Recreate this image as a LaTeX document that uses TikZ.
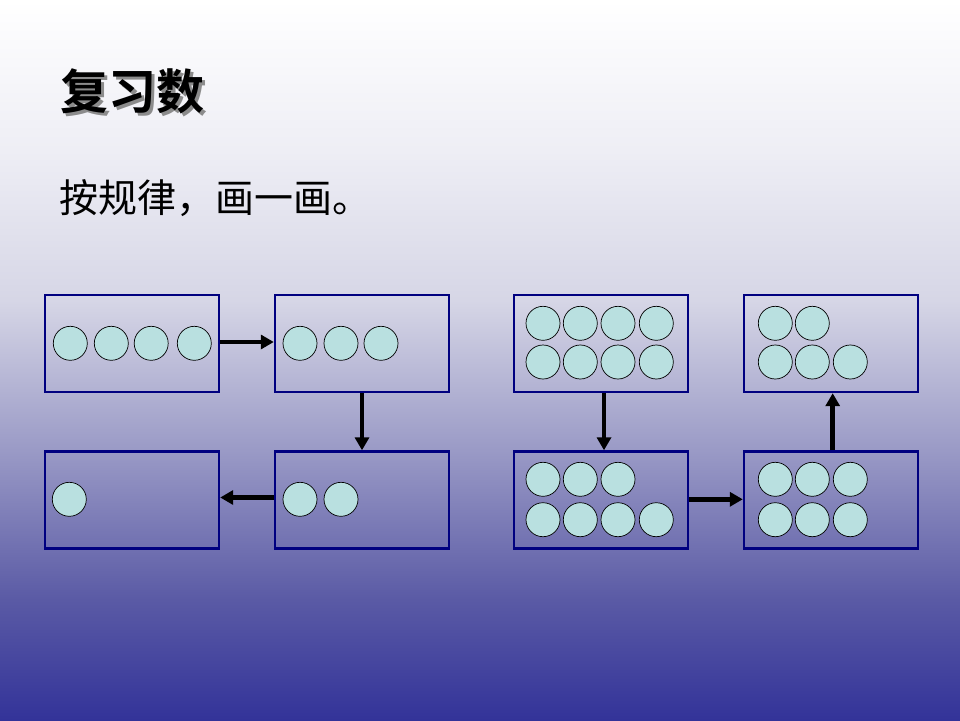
\documentclass[tikz,border=0pt]{standalone}
\usepackage{fontspec}
\newfontfamily\cjk{Noto Sans CJK SC}
\newfontfamily\cjkb{Noto Sans CJK SC Bold}
\usetikzlibrary{arrows.meta}
\definecolor{bgA}{HTML}{333399}
\definecolor{bgB}{HTML}{5A5AA5}
\definecolor{bgM}{HTML}{9A9AC6}
\definecolor{bgC}{HTML}{D6D6E6}
\definecolor{bgD}{HTML}{EEEEF5}
\definecolor{navyline}{HTML}{000080}
\definecolor{dotfill}{HTML}{B9E0E0}
\pgfdeclareverticalshading{bgshade}{100bp}{color(0bp)=(bgA); color(25bp)=(bgA); color(33.33bp)=(bgB); color(43.75bp)=(bgM); color(54.17bp)=(bgC); color(64.58bp)=(bgD); color(75bp)=(white); color(100bp)=(white)}
\tikzset{
  frame/.style={draw=navyline, line width=2.4pt, rectangle, minimum width=174pt, minimum height=97pt, inner sep=0pt},
  dot/.style={circle, draw=black, line width=0.7pt, fill=dotfill, minimum size=34pt, inner sep=0pt},
  arr/.style={line width=4.6pt, -{Triangle[length=13pt,width=14pt]}},
  titletext/.style={font=\cjkb\fontsize{48pt}{52pt}\selectfont, inner sep=0pt, anchor=west},
  bodytext/.style={font=\cjk\fontsize{39pt}{44pt}\selectfont, inner sep=0pt, anchor=west}
}
\begin{document}
\begin{tikzpicture}[x=1pt,y=-1pt]
\useasboundingbox (0,0) rectangle (960,720);
\fill[shading=bgshade] (0,0) rectangle (960,720);
% title with shadow
\node[titletext] (title) at (60,93) {\makebox[0pt][l]{\hspace{3.5pt}\raisebox{-3.5pt}{\color{black!45}复习数}}复习数};
\node[bodytext] (task) at (59,198) {按规律，画一画。};
% boxes
\node[frame] (A) at (132,343.5) {};
\node[frame] (B) at (362,343.5) {};
\node[frame] (C) at (132,500) {};
\node[frame] (D) at (362,500) {};
\node[frame] (E) at (601,343.5) {};
\node[frame] (F) at (831,343.5) {};
\node[frame] (G) at (601,500) {};
\node[frame] (H) at (831,500) {};
% circles
\foreach \x [count=\i] in {70.3,111.3,151.2,194.3} \node[dot] (a\i) at (\x,343.3) {};
\foreach \x [count=\i] in {300,341,381} \node[dot] (b\i) at (\x,343.3) {};
\node[dot] (c1) at (69.3,499.3) {};
\foreach \x [count=\i] in {300,341} \node[dot] (d\i) at (\x,499.3) {};
\foreach \x [count=\i] in {543,580.3,618,656.3} {
  \node[dot] (eu\i) at (\x,323.3) {};
  \node[dot] (el\i) at (\x,362) {};
}
\foreach \x [count=\i] in {775.3,812.3} \node[dot] (fu\i) at (\x,323.3) {};
\foreach \x [count=\i] in {775.3,812.3,850.3} \node[dot] (fl\i) at (\x,362) {};
\foreach \x [count=\i] in {543,580.3,618} \node[dot] (gu\i) at (\x,479.3) {};
\foreach \x [count=\i] in {543,580.3,618,656.3} \node[dot] (gl\i) at (\x,519.7) {};
\foreach \x [count=\i] in {775.3,812.3,850.3} {
  \node[dot] (hu\i) at (\x,479.3) {};
  \node[dot] (hl\i) at (\x,519.7) {};
}
% arrows
\draw[arr] ([yshift=1.5pt]A.east) -- ([yshift=1.5pt]B.west);
\draw[arr] (B.south) -- (D.north);
\draw[arr] ([yshift=2.5pt]D.west) -- ([yshift=2.5pt]C.east);
\draw[arr] ([xshift=3pt]E.south) -- ([xshift=3pt]G.north);
\draw[arr] ([yshift=0.7pt]G.east) -- ([yshift=0.7pt]H.west);
\draw[arr] ([xshift=1.7pt]H.north) -- ([xshift=1.7pt]F.south);
\end{tikzpicture}
\end{document}
